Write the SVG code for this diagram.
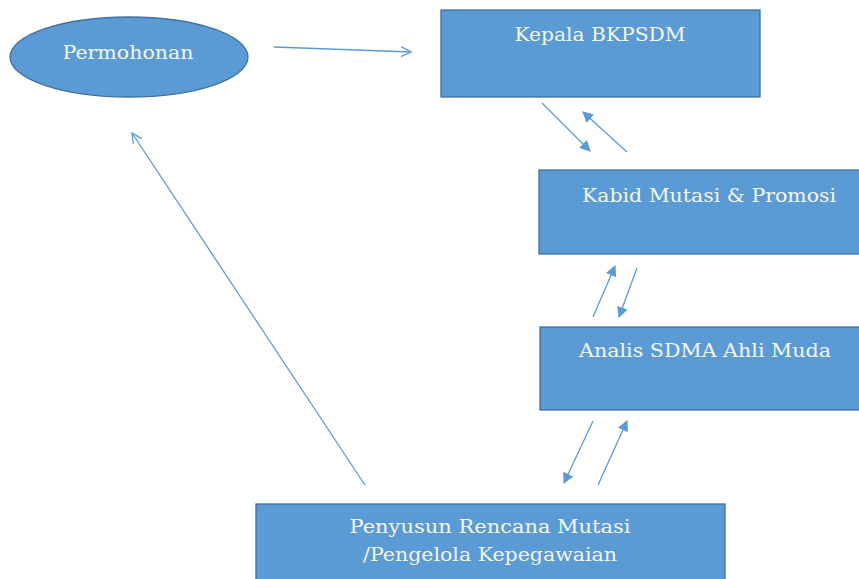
<svg xmlns="http://www.w3.org/2000/svg" width="859" height="579" viewBox="0 0 859 579">
<defs>
<style>
.node{fill:#5B9BD5;stroke:#41719C;stroke-width:1.3}
.lbl{font-family:"DejaVu Serif","Liberation Serif",serif;font-size:19px;fill:#F4F6F8;text-anchor:middle}
.ln{stroke:#5B9BD5;stroke-width:1.3;fill:none}
</style>
<marker id="open" viewBox="0 0 12 12" refX="11" refY="6" markerWidth="12" markerHeight="12" markerUnits="userSpaceOnUse" orient="auto">
<path d="M1,1 L11,6 L1,11" fill="none" stroke="#5B9BD5" stroke-width="1.3"/>
</marker>
<marker id="fill" viewBox="0 0 10 10" refX="9" refY="5" markerWidth="11" markerHeight="11" markerUnits="userSpaceOnUse" orient="auto">
<path d="M0,0 L10,5 L0,10 Z" fill="#5B9BD5"/>
</marker>
</defs>
<rect width="859" height="579" fill="#FFFFFF"/>
<g id="connectors">
<line class="ln" x1="274" y1="47" x2="411" y2="52" marker-end="url(#open)"/>
<line class="ln" x1="542" y1="103" x2="590" y2="151" marker-end="url(#fill)"/>
<line class="ln" x1="627" y1="152" x2="583" y2="112" marker-end="url(#fill)"/>
<line class="ln" x1="593" y1="317" x2="615" y2="266" marker-end="url(#fill)"/>
<line class="ln" x1="637" y1="268" x2="619" y2="317" marker-end="url(#fill)"/>
<line class="ln" x1="593" y1="421" x2="564" y2="483" marker-end="url(#fill)"/>
<line class="ln" x1="598" y1="485" x2="627" y2="421" marker-end="url(#fill)"/>
<line class="ln" x1="365" y1="485" x2="132" y2="133" marker-end="url(#open)"/>
</g>
<g id="permohonan">
<ellipse class="node" cx="129" cy="57" rx="119" ry="40"/>
<text class="lbl" x="128" y="59" textLength="131" lengthAdjust="spacingAndGlyphs">Permohonan</text>
</g>
<g id="kepala">
<rect class="node" x="441" y="10" width="319" height="87"/>
<text class="lbl" x="600" y="41" textLength="171" lengthAdjust="spacingAndGlyphs">Kepala BKPSDM</text>
</g>
<g id="kabid">
<rect class="node" x="539" y="170" width="330" height="84"/>
<text class="lbl" x="709" y="202" textLength="254" lengthAdjust="spacingAndGlyphs">Kabid Mutasi &amp; Promosi</text>
</g>
<g id="analis">
<rect class="node" x="540" y="327" width="330" height="83"/>
<text class="lbl" x="705" y="357" textLength="252" lengthAdjust="spacingAndGlyphs">Analis SDMA Ahli Muda</text>
</g>
<g id="penyusun">
<rect class="node" x="256" y="504" width="469" height="90"/>
<text class="lbl" x="490" y="533" textLength="281" lengthAdjust="spacingAndGlyphs">Penyusun Rencana Mutasi</text>
<text class="lbl" x="490" y="561" textLength="254" lengthAdjust="spacingAndGlyphs">/Pengelola Kepegawaian</text>
</g>
</svg>
